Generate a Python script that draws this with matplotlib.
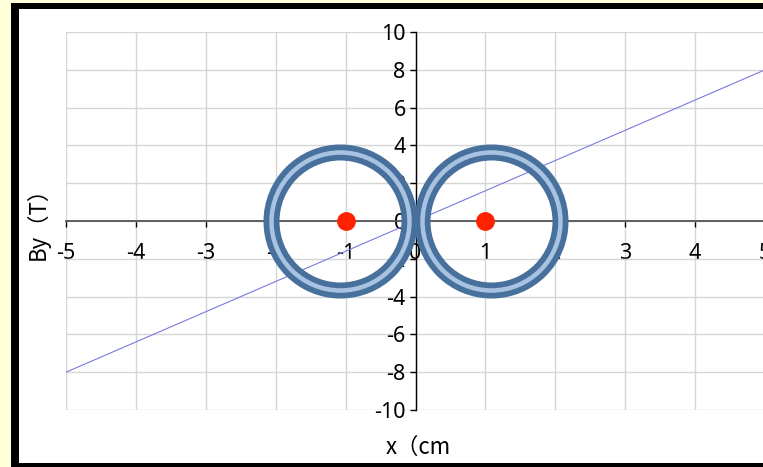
import matplotlib.pyplot as plt
from matplotlib.patches import Rectangle
import numpy as np

plt.rcParams['font.family'] = ['Noto Sans', 'DejaVu Sans']
plt.rcParams['axes.unicode_minus'] = False

# field line By against x
line_x = [-5, 5]
line_y = [-8, 8]
# wire positions (red dots) and the coil rings drawn around them
wire_x = [-1, 1]
wire_y = [0, 0]
ring_x = [-1.08, 1.08]
ring_y = [0, 0]

x_ticks = [-5, -4, -3, -2, -1, 0, 1, 2, 3, 4, 5]
y_ticks = [-10, -8, -6, -4, -2, 0, 2, 4, 6, 8, 10]

W, H = 763, 467
fig = plt.figure(figsize=(W / 100, H / 100), dpi=100)
fig.patch.set_facecolor('white')


def px_rect(x0, y0, x1, y1, color):
    # rectangle given in pixel coords measured from the top left
    fig.add_artist(Rectangle((x0 / W, 1 - y1 / H), (x1 - x0) / W, (y1 - y0) / H,
                             transform=fig.transFigure, facecolor=color,
                             edgecolor='none', zorder=0))


# page frame
px_rect(0, 0, 11, H, '#ffffd9')
px_rect(0, 0, W, 3.3, '#ffffd9')
px_rect(11, 3.3, 19, H, 'black')
px_rect(11, 3.3, W, 6.7, 'black')
px_rect(19, 7.3, W, 8.7, 'black')
px_rect(19, 463, W, H, 'black')

ax = fig.add_axes([66 / W, 1 - 410 / H, 699 / W, 378 / H])
ax.set_facecolor('none')
ax.set_xlim(-5, 5)
ax.set_ylim(-10, 10)
ax.set_xticks(x_ticks)
ax.set_yticks(y_ticks)
ax.grid(True, color='#d6d6d6', linewidth=1.0)
ax.set_axisbelow(True)

ax.spines['left'].set_position('zero')
ax.spines['bottom'].set_position('zero')
ax.spines['top'].set_visible(False)
ax.spines['right'].set_visible(False)
ax.spines['left'].set_color('black')
ax.spines['bottom'].set_color('#555555')
ax.spines['left'].set_linewidth(1.0)
ax.spines['bottom'].set_linewidth(1.3)

ax.tick_params(axis='x', direction='out', length=4, width=1, pad=12,
               labelsize=15.5, color='black')
ax.tick_params(axis='y', direction='out', length=4, width=1, pad=3,
               labelsize=15.5, color='black')

ax.plot(line_x, line_y, color='#7a7ae0', linewidth=0.8, zorder=2)

# coil rings: dark band with a light stripe through the middle
ax.plot(ring_x, ring_y, 'o', markersize=138 * 0.72, markerfacecolor='none',
        markeredgecolor='#48709c', markeredgewidth=16 * 0.72,
        linestyle='none', zorder=3)
ax.plot(ring_x, ring_y, 'o', markersize=138 * 0.72, markerfacecolor='none',
        markeredgecolor='#a8c3e2', markeredgewidth=4.5 * 0.72,
        linestyle='none', zorder=3.1)

ax.plot(wire_x, wire_y, 'o', markersize=12.5, color='#ff2200',
        linestyle='none', zorder=4)

cjk = ['Noto Sans CJK SC', 'DejaVu Sans']
fig.text(386 / W, 1 - 447 / H, 'x（cm', fontsize=16, ha='left', va='center',
         family=cjk, fontweight='medium')
fig.text(38 / W, 1 - 218 / H, 'By（T）', fontsize=16, rotation=90,
         ha='center', va='center', family=cjk, fontweight='medium')

fig.savefig('out.png', dpi=100)
